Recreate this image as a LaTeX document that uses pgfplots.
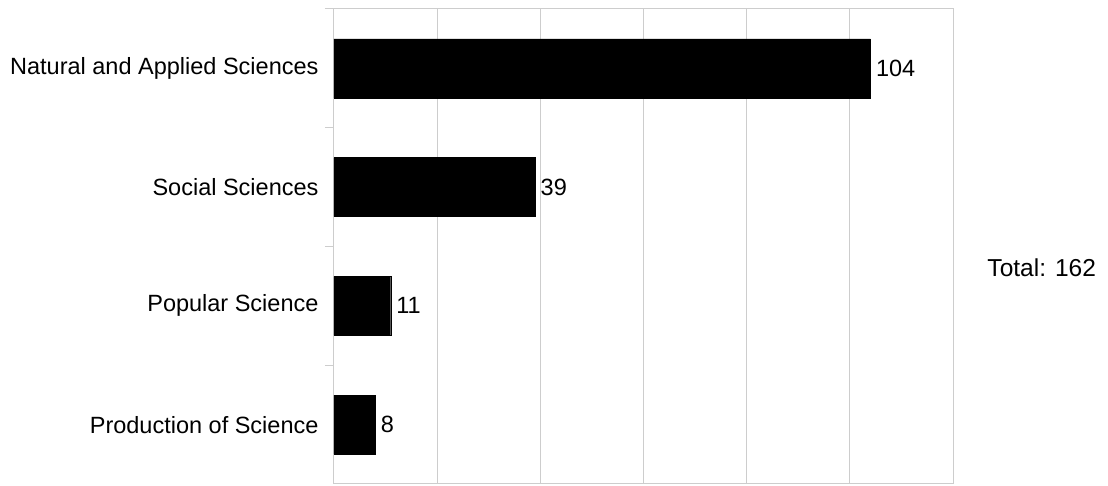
\documentclass[border=0pt]{standalone}
\usepackage{pgfplots}
\pgfplotsset{compat=1.18}
\usepackage{fontspec}
\setmainfont{Liberation Sans}
\definecolor{gridgray}{RGB}{205,205,205}

\begin{document}
\begin{tikzpicture}
\begin{axis}[
	scale only axis,
	width=619pt, height=475pt,
	xbar, bar width=59pt,
	xmin=0, xmax=120,
	ymin=0.5, ymax=4.5,
	xtick={0,20,...,120},
	xticklabels={},
	xmajorgrids,
	grid style={gridgray, line width=1pt},
	axis line style={gridgray, line width=1pt},
	ytick pos=left,
	ytick={1,2,3,4},
	yticklabels={Production of Science, Popular Science, Social Sciences, Natural and Applied Sciences},
	minor ytick={1.5,2.5,3.5,4.5},
	major tick length=0pt,
	minor tick length=9pt,
	tick align=outside,
	tick style={gridgray, line width=1pt},
	xtick style={draw=none},
	yticklabel style={font=\fontsize{23.5}{28}\selectfont, xshift=-12pt},
	/pgf/number format/assume math mode=true,
	nodes near coords={\pgfmathprintnumber{\pgfplotspointmeta}},
	every node near coord/.append style={font=\fontsize{23.5}{28}\selectfont, black, xshift=2pt},
	clip=false,
]
\addplot[fill=black, draw=black] coordinates {
	(8,1)
	(11,2)
	(39,3)
	(104,4)
};
\node[anchor=west, font=\fontsize{24.5}{28}\selectfont] at (rel axis cs:1.05,0.455) {Total: 162};
\end{axis}
\pgfresetboundingbox
\path (-334pt,-2pt) rectangle (774pt,484pt);
\end{tikzpicture}
\end{document}
